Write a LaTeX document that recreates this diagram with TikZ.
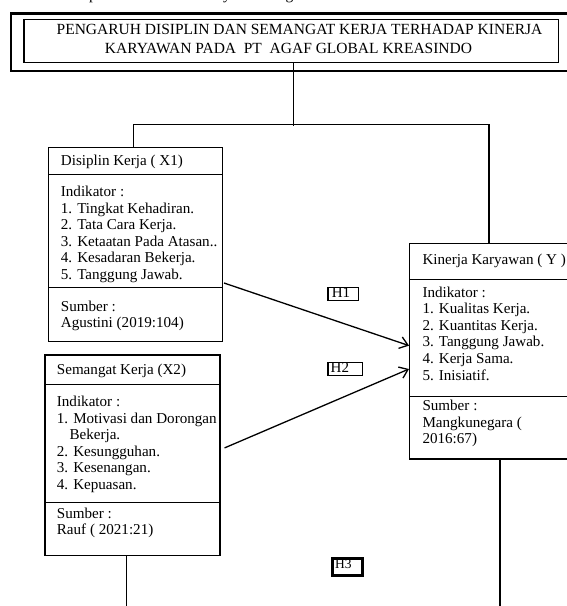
\documentclass[tikz,border=0pt]{standalone}
\usepackage{fontspec}
\setmainfont{Liberation Serif}
\usetikzlibrary{arrows.meta,calc}
\newcommand\mylines[1]{\begin{tabular}[t]{@{}l@{}}#1\end{tabular}}
\begin{document}
\begin{tikzpicture}[x=1pt,y=-1pt,
  part/.style={draw,line width=1.3pt,anchor=north west,inner sep=0pt},
  txt/.style={anchor=base west,inner sep=0pt,font=\fontsize{15.1}{16.6}\selectfont},
  ttl/.style={anchor=base west,inner sep=0pt,font=\fontsize{15.5}{18}\selectfont},
  htxt/.style={anchor=base west,inner sep=0pt,font=\fontsize{15}{16}\selectfont},
  hbox/.style={draw,line width=1.3pt,anchor=north west,inner sep=0pt},
  conn/.style={line width=1.3pt},
  arr/.style={conn,-{Straight Barb[length=8pt,width=12pt]}}
]
\useasboundingbox (0,0) rectangle (566,606);

% cut-off line of text at the very top (only descenders show)
\begin{scope}
\clip (0,0) rectangle (566,606);
\node[ttl] (toptext) at (89,-0.6) {pemikiran teoritis ini yaitu sebagai berikut};
\end{scope}

% title
\node[draw,line width=2.8pt,anchor=north west,inner sep=0pt,minimum width=562.5pt,minimum height=57.5pt] (frame) at (9.5,12) {};
\node[draw,line width=1.3pt,anchor=north west,inner sep=0pt,minimum width=534.7pt,minimum height=43pt] (title) at (23.3,18.5) {};
\node[ttl] (tl1) at (56.5,34.3) {PENGARUH DISIPLIN DAN SEMANGAT KERJA TERHADAP KINERJA};
\node[ttl] (tl2) at (104.7,53.5) {KARYAWAN PADA\ \ PT\ \ AGAF GLOBAL KREASINDO};

% X1
\node[part,minimum width=174pt,minimum height=27.3pt] (x1h) at (47.7,146.7) {};
\node[part,minimum width=174pt,minimum height=112.7pt] (x1m) at (47.7,174) {};
\node[part,minimum width=174pt,minimum height=54.3pt] (x1s) at (47.7,286.7) {};
\node[txt] (x1ht) at (60.7,165) {Disiplin Kerja ( X1)};
\node[txt] (x1mt) at (60.7,196.5) {\mylines{Indikator :\\1. Tingkat Kehadiran.\\2. Tata Cara Kerja.\\3. Ketaatan Pada Atasan..\\4. Kesadaran Bekerja.\\5. Tanggung Jawab.}};
\node[txt] (x1st) at (60.7,311) {\mylines{Sumber :\\Agustini (2019:104)}};

% X2
\node[part,minimum width=175pt,minimum height=29.7pt] (x2h) at (44.3,354.3) {};
\node[part,minimum width=175pt,minimum height=117.7pt] (x2m) at (44.3,384) {};
\node[part,minimum width=175pt,minimum height=53.3pt] (x2s) at (44.3,501.7) {};
\node[txt] (x2ht) at (56.7,374) {Semangat Kerja (X2)};
\node[txt] (x2mt) at (56.7,406.5) {\mylines{Indikator :\\1. Motivasi dan Dorongan\\\hspace*{12.6pt}Bekerja.\\2. Kesungguhan.\\3. Kesenangan.\\4. Kepuasan.}};
\node[txt] (x2st) at (56.7,518) {\mylines{Sumber :\\Rauf ( 2021:21)}};

% Y
\node[part,minimum width=159pt,minimum height=36.3pt] (yh) at (409,242.7) {};
\node[part,minimum width=159pt,minimum height=116.7pt] (ym) at (409,279) {};
\node[part,minimum width=159pt,minimum height=62.6pt] (ys) at (409,395.7) {};
\node[txt] (yht) at (422.3,264.7) {Kinerja Karyawan ( Y )};
\node[txt] (ymt) at (422.3,297) {\mylines{Indikator :\\1. Kualitas Kerja.\\2. Kuantitas Kerja.\\3. Tanggung Jawab.\\4. Kerja Sama.\\5. Inisiatif.}};
\node[txt] (yst) at (422.3,410.7) {\mylines{Sumber :\\Mangkunegara (\\2016:67)}};

% hypothesis labels
\node[hbox,minimum width=30.4pt,minimum height=13.3pt] (h1) at (327.3,286.7) {};
\node[htxt] (h1t) at (331.7,297.7) {H1};
\node[hbox,minimum width=34.4pt,minimum height=13.3pt] (h2) at (327.3,361.7) {};
\node[htxt] (h2t) at (330.5,372.8) {H2};
\node[hbox,line width=3pt,minimum width=30.4pt,minimum height=17pt] (h3) at (330.8,556.5) {};
\node[htxt,font=\fontsize{13.5}{15}\selectfont] (h3t) at (335,568) {H3};

% connectors
\draw[conn] ($(title.south)+(2.3,0)$) -- ++(0,63);
\draw[conn] ($(x1h.north)+(-1.9,0)$) -- ++(0,-22.2) -| ($(yh.north)+(-0.1,0)$);
\draw[arr] ($(x1m.south east)+(1,-5)$) -- ($(ym.west)+(0,7.6)$);
\draw[arr] ($(x2m.east)+(4,4.4)$) -- ($(ym.west)+(0,31)$);
\draw[conn] ($(ys.south)+(10.8,0)$) -- ++(0,152);
\draw[conn] ($(x2s.south)+(-5.8,0)$) -- ++(0,55);
\end{tikzpicture}
\end{document}
